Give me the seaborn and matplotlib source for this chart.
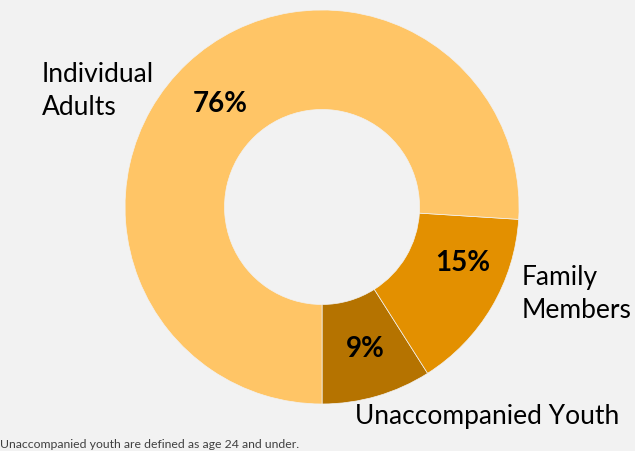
import matplotlib
matplotlib.use("Agg")
import matplotlib.pyplot as plt
import seaborn as sns

# share of people by household type
categories = ["Unaccompanied Youth", "Family\nMembers", "Individual\nAdults"]
shares = [9, 15, 76]
pct_labels = ["9%", "15%", "76%"]
footnote = "Unaccompanied youth are defined as age 24 and under."

sns.set_theme(style="white")
plt.rcParams["font.family"] = ["Lato", "DejaVu Sans"]

colors = ["#B57300", "#E39000", "#FFC566"]
bg = "#F2F2F2"

fig = plt.figure(figsize=(6.35, 4.52), dpi=100, facecolor=bg)
ax = fig.add_axes([0.1969, 0.104, 0.6205, 0.8717])
ax.set_facecolor(bg)

wedges, _ = ax.pie(shares, colors=colors, startangle=-90, counterclock=True,
                   radius=1, wedgeprops=dict(width=0.505, linewidth=0.5, edgecolor=bg))
ax.set_xlim(-1, 1)
ax.set_ylim(-1, 1)
ax.set_aspect("equal")
ax.axis("off")

# data label positions (in pie units) and category label positions
pct_pos = [(0.218, -0.716), (0.716, -0.279), (-0.518, 0.528)]
cat_pos = [(0.168, -1.056), (1.015, -0.437), (-1.421, 0.595)]

for lab, (x, y) in zip(pct_labels, pct_pos):
    ax.text(x, y, lab, ha="center", va="center", fontsize=20,
            fontweight="bold", color="black")
for lab, (x, y) in zip(categories, cat_pos):
    ax.text(x, y, lab, ha="left", va="center", fontsize=19,
            color="black", linespacing=1.38, clip_on=False)

fig.text(0.0, 0.017, footnote, fontsize=8.8, color="#404040", ha="left", va="center")

fig.savefig("out.png", dpi=100, facecolor=bg)
